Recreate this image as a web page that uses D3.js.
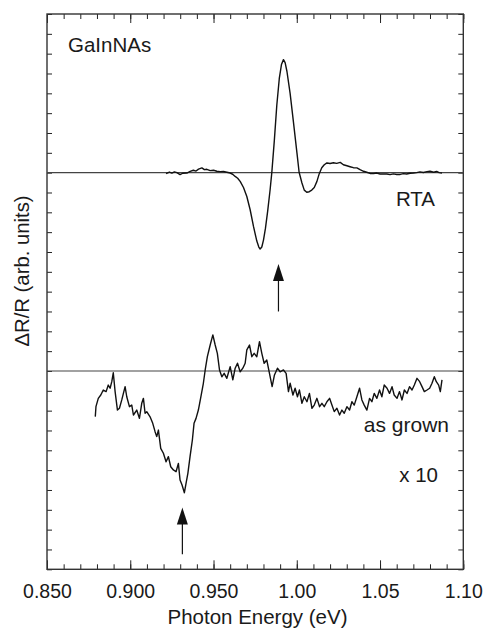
<!DOCTYPE html>
<html><head><meta charset="utf-8">
<script src="https://cdn.jsdelivr.net/npm/d3@7"></script>
<style>
html,body{margin:0;padding:0;background:#fff;}
svg{display:block;}
text{font-family:"Liberation Sans",Arial,Helvetica,sans-serif;fill:#1a1a1a;}
</style></head>
<body>
<svg id="chart" width="483" height="628"></svg>
<script>
// ---------- data ----------
const energyTicks = [0.85, 0.90, 0.95, 1.00, 1.05, 1.10];
const energyTickLabels = ["0.850", "0.900", "0.950", "1.00", "1.05", "1.10"];
const yTickValues = d3.range(-10, 18.001, 1);

const rtaOffset = 10;   // vertical offset of RTA trace (arb. units)
const grownOffset = 0;  // vertical offset of as-grown trace

const rtaEnergy = [0.9215,0.9235,0.9250,0.9265,0.9280,0.9299,0.9315,0.9340,0.9360,0.9379,0.9395,0.9410,0.9430,0.9445,0.9460,0.9480,0.9500,0.9520,0.9540,0.9560,0.9580,0.9600,0.9615,0.9630,0.9645,0.9660,0.9680,0.9700,0.9720,0.9740,0.9760,0.9772,0.9780,0.9790,0.9800,0.9812,0.9825,0.9840,0.9850,0.9865,0.9880,0.9895,0.9908,0.9920,0.9930,0.9941,0.9960,0.9980,1.0001,1.0014,1.0031,1.0045,1.0060,1.0075,1.0090,1.0105,1.0121,1.0135,1.0150,1.0165,1.0181,1.0200,1.0220,1.0240,1.0261,1.0280,1.0301,1.0320,1.0340,1.0361,1.0380,1.0401,1.0420,1.0440,1.0461,1.0480,1.0500,1.0520,1.0541,1.0560,1.0580,1.0600,1.0621,1.0640,1.0660,1.0680,1.0701,1.0720,1.0740,1.0760,1.0782,1.0800,1.0822,1.0840,1.0855,1.0872];
const rtaValue = [-0.05,0.03,-0.02,0.04,0.00,-0.10,-0.03,-0.02,0.06,0.12,0.08,0.18,0.24,0.15,0.17,0.10,0.12,0.07,0.05,0.06,0.02,-0.02,-0.08,-0.19,-0.28,-0.44,-0.75,-1.20,-1.87,-2.71,-3.45,-3.75,-3.85,-3.75,-3.40,-2.80,-1.95,-0.85,0.00,1.60,3.40,4.75,5.45,5.70,5.55,5.10,4.00,2.55,1.00,0.02,-0.52,-0.88,-0.99,-0.96,-0.88,-0.75,-0.44,-0.05,0.25,0.40,0.49,0.46,0.50,0.47,0.52,0.40,0.35,0.30,0.25,0.24,0.15,0.07,0.02,-0.04,-0.05,-0.02,-0.07,-0.06,-0.07,-0.10,-0.06,-0.09,-0.09,-0.05,-0.07,-0.03,-0.02,0.00,0.04,0.01,0.05,0.07,0.02,0.06,0.00,-0.02];

const grownEnergy = [0.8790,0.8794,0.8808,0.8823,0.8838,0.8855,0.8868,0.8879,0.8889,0.8898,0.8909,0.8923,0.8935,0.8949,0.8969,0.8979,0.8995,0.9009,0.9019,0.9039,0.9055,0.9069,0.9079,0.9089,0.9099,0.9119,0.9135,0.9149,0.9159,0.9169,0.9183,0.9199,0.9215,0.9229,0.9243,0.9259,0.9275,0.9289,0.9299,0.9311,0.9325,0.9335,0.9346,0.9359,0.9373,0.9383,0.9395,0.9409,0.9424,0.9439,0.9450,0.9463,0.9480,0.9496,0.9510,0.9523,0.9536,0.9550,0.9564,0.9580,0.9600,0.9616,0.9630,0.9644,0.9660,0.9676,0.9690,0.9700,0.9716,0.9730,0.9744,0.9760,0.9776,0.9790,0.9804,0.9820,0.9836,0.9852,0.9866,0.9884,0.9900,0.9920,0.9936,0.9950,0.9960,0.9977,0.9990,1.0004,1.0016,1.0031,1.0045,1.0061,1.0076,1.0091,1.0105,1.0121,1.0137,1.0151,1.0165,1.0181,1.0197,1.0211,1.0225,1.0241,1.0257,1.0271,1.0285,1.0301,1.0317,1.0331,1.0345,1.0361,1.0377,1.0391,1.0405,1.0421,1.0437,1.0451,1.0465,1.0481,1.0497,1.0511,1.0525,1.0542,1.0557,1.0572,1.0585,1.0602,1.0617,1.0632,1.0646,1.0662,1.0677,1.0692,1.0706,1.0722,1.0738,1.0752,1.0766,1.0782,1.0798,1.0812,1.0826,1.0838,1.0852,1.0862,1.0872];
const grownValue = [-2.30,-1.80,-1.38,-1.21,-0.96,-1.04,-0.71,-0.87,-0.54,-0.09,-1.04,-1.97,-1.88,-1.46,-0.79,-1.30,-1.80,-1.72,-2.22,-1.97,-2.39,-1.63,-1.38,-2.13,-2.05,-2.31,-2.64,-3.06,-3.31,-2.98,-3.90,-4.15,-4.58,-4.32,-4.83,-4.99,-5.08,-4.66,-5.50,-5.75,-6.14,-5.67,-5.16,-4.32,-3.48,-2.64,-2.39,-1.97,-1.30,-0.62,0.05,0.72,1.31,1.82,1.31,0.89,0.05,-0.29,-0.12,-0.37,0.22,-0.45,0.14,0.39,-0.04,0.14,0.39,1.06,1.31,0.72,0.89,0.72,1.48,0.89,0.39,0.55,-0.12,-0.79,-0.20,0.14,-0.04,0.05,-0.12,-1.04,-0.62,-1.21,-0.87,-1.30,-0.96,-1.63,-1.30,-1.55,-1.13,-1.88,-1.72,-1.38,-1.80,-1.63,-1.80,-1.55,-1.38,-1.72,-2.05,-1.88,-2.22,-1.97,-2.13,-1.80,-1.97,-1.55,-1.72,-1.30,-0.87,-1.46,-1.72,-1.97,-1.38,-1.55,-1.13,-1.38,-0.96,-1.30,-0.71,-0.87,-1.13,-0.79,-1.21,-1.38,-1.04,-1.46,-0.96,-1.13,-0.79,-0.96,-0.71,-0.37,-0.54,-0.79,-1.04,-0.96,-0.87,-0.62,-0.29,-0.54,-0.71,-1.04,-0.45];

// arrows: [energy, tip value, tail value]
const arrowRTA = [0.989, 5.40, 3.00];
const arrowGrown = [0.9313, -6.89, -9.24];

// ---------- layout ----------
const W = 483, H = 628;
const margin = {left: 47, right: 19.7, top: 14, bottom: 58.7};
const iw = W - margin.left - margin.right;
const ih = H - margin.top - margin.bottom;

const svg = d3.select("#chart");
const g = svg.append("g").attr("transform", `translate(${margin.left},${margin.top})`);

const x = d3.scaleLinear().domain([0.85, 1.10]).range([0, iw]);
const y = d3.scaleLinear().domain([-10, 18]).range([ih, 0]);

const minorTicks = d3.range(0, 26).map(i => 0.85 + i * 0.01);
const ink = "#222";

function styleAxis(sel) {
  sel.select(".domain").remove();
  sel.selectAll(".tick line").attr("stroke", ink).attr("stroke-width", 1);
}

// bottom axis: minor + major inward ticks
g.append("g").attr("transform", `translate(0,${ih})`)
  .call(d3.axisBottom(x).tickValues(minorTicks).tickSize(-5).tickFormat(""))
  .call(styleAxis);
const bottomMajor = g.append("g").attr("transform", `translate(0,${ih})`)
  .call(d3.axisBottom(x).tickValues(energyTicks).tickSize(-9).tickPadding(15)
    .tickFormat((d, i) => energyTickLabels[i]))
  .call(styleAxis);
bottomMajor.selectAll(".tick text")
  .attr("font-size", 19.5).attr("fill", "#1a1a1a")
  .style("font-family", '"Liberation Sans",Arial,sans-serif');

// top axis
g.append("g")
  .call(d3.axisTop(x).tickValues(minorTicks).tickSize(-5).tickFormat(""))
  .call(styleAxis);
g.append("g")
  .call(d3.axisTop(x).tickValues(energyTicks).tickSize(-9).tickFormat(""))
  .call(styleAxis);

// left / right axes
g.append("g")
  .call(d3.axisLeft(y).tickValues(yTickValues).tickSize(-5).tickFormat(""))
  .call(styleAxis);
g.append("g").attr("transform", `translate(${iw},0)`)
  .call(d3.axisRight(y).tickValues(yTickValues).tickSize(-5).tickFormat(""))
  .call(styleAxis);

// frame
g.append("rect").attr("x", 0).attr("y", 0).attr("width", iw).attr("height", ih)
  .attr("fill", "none").attr("stroke", "#333").attr("stroke-width", 1.4);

// baselines
[rtaOffset, grownOffset].forEach(o => {
  g.append("line").attr("x1", 0).attr("x2", iw).attr("y1", y(o)).attr("y2", y(o))
    .attr("stroke", "#444").attr("stroke-width", 1.1);
});

// traces
const line = d3.line().x(d => x(d[0])).y(d => y(d[1]));
const rtaData = rtaEnergy.map((e, i) => [e, rtaValue[i] + rtaOffset]);
const grownData = grownEnergy.map((e, i) => [e, grownValue[i] + grownOffset]);

g.append("path").datum(rtaData).attr("d", line)
  .attr("fill", "none").attr("stroke", "#111").attr("stroke-width", 1.4)
  .attr("stroke-linejoin", "round");
g.append("path").datum(grownData).attr("d", line)
  .attr("fill", "none").attr("stroke", "#111").attr("stroke-width", 1.4)
  .attr("stroke-linejoin", "round");

// arrows
function arrow(a) {
  const ax = x(a[0]), tip = y(a[1]), tail = y(a[2]);
  const headLen = 17, headW = 5.5;
  g.append("line").attr("x1", ax).attr("x2", ax).attr("y1", tip + headLen - 1).attr("y2", tail)
    .attr("stroke", "#111").attr("stroke-width", 1.2);
  g.append("path")
    .attr("d", `M${ax},${tip} L${ax - headW},${tip + headLen} L${ax + headW},${tip + headLen} Z`)
    .attr("fill", "#111");
}
arrow(arrowRTA);
arrow(arrowGrown);

// labels
svg.append("text").attr("x", 68).attr("y", 52).attr("font-size", 20.5).text("GaInNAs");
svg.append("text").attr("x", 435).attr("y", 206).attr("font-size", 20.5)
  .attr("text-anchor", "end").text("RTA");
svg.append("text").attr("x", 449).attr("y", 432).attr("font-size", 21)
  .attr("text-anchor", "end").text("as grown");
svg.append("text").attr("x", 438).attr("y", 482).attr("font-size", 20.5)
  .attr("text-anchor", "end").text("x 10");

// axis titles
svg.append("text").attr("x", 257.5).attr("y", 624)
  .attr("text-anchor", "middle").attr("font-size", 20.5).text("Photon Energy (eV)");
svg.append("text")
  .attr("transform", `translate(29,${271}) rotate(-90)`)
  .attr("text-anchor", "middle").attr("font-size", 20.3).text("ΔR/R (arb. units)");
</script>
</body></html>
